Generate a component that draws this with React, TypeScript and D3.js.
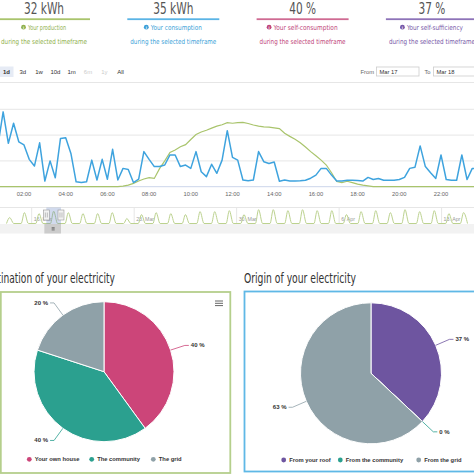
import React from "react";
import * as d3 from "d3";

// KPI cards
const kpiValues = ["32 kWh", "35 kWh", "40 %", "37 %"];
const kpiLabels = ["Your production", "Your consumption", "Your self-consumption", "Your self-sufficiency"];
const kpiColors = ["#a9c46c", "#5ab4e5", "#cf6a92", "#8d73b8"];
const kpiTextColors = ["#8fb04c", "#3b9fd8", "#c0457a", "#7658a8"];

const rangeButtons = ["1d", "3d", "1w", "10d", "1m", "6m", "1y", "All"];
const disabledButtons = ["6m", "1y"];
const fromDate = "Mar 17";
const toDate = "Mar 18";

// main chart, 15 min steps from 00:00 (kW)
const consumption = [
  1.9, 2.3, 1.7, 1.6, 2.9, 1.68, 2.46, 1.74, 1.62, 1.06, 0.8, 1.7, 0.22, 1.0, 0.35, 1.87,
  1.9, 1.29, 0.19, 0.16, 0.19, 1.03, 0.26, 1.06, 0.29, 1.45, 0.26, 0.71, 0.67, 0.16, 0.29, 1.36,
  1.06, 0.78, 0.78, 0.84, 1.23, 1.23, 0.78, 0.84, 0.71, 1.36, 0.58, 0.39, 0.87, 0.52, 1.03, 2.17,
  1.14, 1.03, 0.26, 0.23, 0.26, 1.36, 0.97, 0.9, 0.96, 0.21, 0.26, 0.22, 0.22, 0.23, 0.25, 0.33,
  0.45, 0.71, 0.71, 0.45, 0.22, 0.22, 0.25, 0.25, 0.24, 0.22, 0.36, 0.28, 0.32, 0.25, 0.25, 0.25,
  0.28, 0.36, 0.71, 0.75, 1.58, 0.78, 0.54, 0.32, 1.23, 0.28, 0.25, 0.25, 1.23, 0.28, 0.71, 0.71,
];
const production = [
  0, 0, 0, 0, 0, 0, 0, 0, 0, 0, 0, 0, 0, 0, 0, 0,
  0, 0, 0, 0, 0, 0, 0, 0, 0, 0, 0, 0.02, 0.06, 0.13, 0.22, 0.3,
  0.35, 0.32, 0.7, 1.0, 1.33, 1.42, 1.55, 1.63, 1.83, 2.02, 2.12, 2.19, 2.27, 2.35, 2.4, 2.48,
  2.46, 2.48, 2.49, 2.45, 2.39, 2.35, 2.32, 2.31, 2.28, 2.25, 2.07, 1.95, 1.84, 1.7, 1.54, 1.36,
  1.2, 1.03, 0.84, 0.54, 0.2, 0.16, 0.21, 0.16, 0.1, 0.06, 0.03, 0, 0, 0, 0, 0,
  0, 0, 0, 0, 0, 0, 0, 0, 0, 0, 0, 0, 0, 0, 0, 0,
];
const timeTicks = ["02:00", "04:00", "06:00", "08:00", "10:00", "12:00", "14:00", "16:00", "18:00", "20:00", "22:00"];

// navigator: daily production peak (kW)
const navDays = [
  "2019-03-14", "2019-03-15", "2019-03-16", "2019-03-17", "2019-03-18", "2019-03-19", "2019-03-20", "2019-03-21",
  "2019-03-22", "2019-03-23", "2019-03-24", "2019-03-25", "2019-03-26", "2019-03-27", "2019-03-28", "2019-03-29",
  "2019-03-30", "2019-03-31", "2019-04-01", "2019-04-02", "2019-04-03", "2019-04-04", "2019-04-05", "2019-04-06",
  "2019-04-07", "2019-04-08", "2019-04-09", "2019-04-10", "2019-04-11", "2019-04-12", "2019-04-13", "2019-04-14",
];
const navPeaks = [
  1.2, 2.2, 2.0, 2.49, 2.2, 2.0, 2.0, 2.2,
  1.0, 1.8, 2.2, 2.0, 1.8, 2.4, 2.4, 2.6,
  1.8, 2.8, 2.8, 2.6, 2.8, 2.6, 2.6, 1.8,
  2.4, 2.6, 2.2, 2.8, 2.4, 2.6, 2.0, 2.2,
];
const navTickLabels = ["16. Mar", "23. Mar", "30. Mar", "6. Apr", "13. Apr"];
const navTickDates = ["2019-03-16", "2019-03-23", "2019-03-30", "2019-04-06", "2019-04-13"];
const selectedRange = ["2019-03-17", "2019-03-18"];

// pies
const destLabels = ["Your own house", "The community", "The grid"];
const destValues = [40, 40, 20];
const originLabels = ["From your roof", "From the community", "From the grid"];
const originValues = [37, 0, 63];
const destColors = ["#cc4579", "#2ba08f", "#8fa1a8"];
const originColors = ["#6e55a0", "#2ba08f", "#8fa1a8"];

const chartFont = "'Liberation Sans', Arial, sans-serif";
const condFont = "'DejaVu Sans Condensed', 'Liberation Sans Narrow', sans-serif";
const parseDay = d3.utcParse("%Y-%m-%d");

function Pie({ values, labels, colors, cx, cy, r, legendX, legendY, legendGaps }) {
  const arcs = d3.pie<number>().sort(null).value((d) => d)(values);
  const arc = d3.arc<any>().innerRadius(0).outerRadius(r);
  let lx = legendX;
  return (
    <g>
      <g transform={`translate(${cx},${cy})`}>
        {arcs.map((a, i) => (
          <path key={i} d={arc(a) || ""} fill={colors[i]} stroke="#fff" strokeWidth={1} />
        ))}
        {arcs.map((a, i) => {
          const mid = (a.startAngle + a.endAngle) / 2;
          const s = Math.sin(mid), c = -Math.cos(mid);
          const x0 = s * r, y0 = c * r;
          const x1 = s * (r + 15), y1 = c * (r + 15);
          const right = s >= 0;
          const x2 = x1 + (right ? 4 : -4);
          return (
            <g key={"l" + i}>
              <path d={`M${x0},${y0}L${x1},${y1}L${x2},${y1}`} fill="none" stroke={colors[i]} strokeWidth={0.8} />
              <text x={x2 + (right ? 2 : -2)} y={y1 + 2} textAnchor={right ? "start" : "end"}
                fontSize={6} fontWeight="bold" fill="#333" fontFamily={chartFont}>
                {`${values[i]} %`}
              </text>
            </g>
          );
        })}
      </g>
      {labels.map((l, i) => {
        const x0 = lx;
        lx += legendGaps[i];
        return (
          <g key={"g" + i}>
            <circle cx={x0} cy={legendY - 2} r={2.4} fill={colors[i]} />
            <text x={x0 + 5.5} y={legendY} fontSize={5.8} fontWeight="bold" fill="#333" fontFamily={chartFont}>
              {l}
            </text>
          </g>
        );
      })}
    </g>
  );
}

export default function App() {
  const W = 474, H = 474;

  // main chart scales
  const x = d3.scaleLinear().domain([0, 24]).range([-17.7, 482.7]);
  const y = d3.scaleLinear().domain([0, 3]).range([186.7, 109.3]);
  const line = d3.line<number>().x((_, i) => x(i * 0.25)).y((d) => y(d));

  // navigator scales
  const navX = d3.scaleUtc().domain([parseDay("2019-03-16"), parseDay("2019-04-13")]).range([31.7, 441.6]);
  const navY = d3.scaleLinear().domain([0, 3.2]).range([223.5, 207.7]);
  const navPts: [number, number][] = [];
  navDays.forEach((d, i) => {
    const t = +parseDay(d);
    const day = 86400000;
    navPts.push([t + 0.28 * day, 0], [t + 0.5 * day, navPeaks[i]], [t + 0.77 * day, 0]);
  });
  const navLine = d3.line<[number, number]>().x((d) => navX(d[0])).y((d) => navY(d[1])).curve(d3.curveMonotoneX);
  const selX0 = navX(parseDay(selectedRange[0]));
  const selX1 = navX(parseDay(selectedRange[1]));

  const cardStep = 129.3;
  const subWidths = [38, 51, 64, 56];

  return (
    <div>
      <style>{`body{margin:0;background:#fff}`}</style>
      <svg width={W} height={H} style={{ display: "block" }}>
        <rect width={W} height={H} fill="#fff" />

        {/* KPI cards */}
        {kpiValues.map((v, i) => {
          const cx = 44 + i * cardStep;
          const tx = cx + 3;
          return (
            <g key={i}>
              <text x={cx} y={14} textAnchor="middle" fontSize={15} fill="#555" fontFamily={condFont}
                textLength={v.length * 6.7} lengthAdjust="spacingAndGlyphs">{v}</text>
              <rect x={cx - 46} y={18.3} width={92} height={1.8} fill={kpiColors[i]} />
              <circle cx={tx - subWidths[i] / 2 - 4.5} cy={27.2} r={2.4} fill={kpiTextColors[i]} />
              <text x={tx - subWidths[i] / 2 - 4.5} y={28.9} textAnchor="middle" fontSize={4} fontWeight="bold" fill="#fff" fontFamily={chartFont}>i</text>
              <text x={tx} y={29.5} textAnchor="middle" fontSize={7} fill={kpiTextColors[i]} fontFamily={condFont}
                textLength={subWidths[i]} lengthAdjust="spacingAndGlyphs">{kpiLabels[i]}</text>
              <text x={cx} y={44} textAnchor="middle" fontSize={7} fill={kpiTextColors[i]} fontFamily={condFont}
                textLength={86} lengthAdjust="spacingAndGlyphs">during the selected timeframe</text>
            </g>
          );
        })}

        {/* range selector */}
        <rect x={0} y={66.5} width={13.5} height={10.5} fill="#e6ebf5" />
        {rangeButtons.map((b, i) => (
          <text key={b} x={6.5 + i * 16.3} y={73.8} textAnchor="middle" fontSize={6}
            fontWeight={i === 0 ? "bold" : "normal"}
            fill={disabledButtons.includes(b) ? "#ccc" : "#333"} fontFamily={chartFont}>{b}</text>
        ))}
        <text x={374} y={73.5} textAnchor="end" fontSize={5.8} fill="#666" fontFamily={chartFont}>From</text>
        <rect x={376.5} y={67} width={42.5} height={9} fill="#fff" stroke="#ccc" strokeWidth={0.8} />
        <text x={379.5} y={73.5} fontSize={5.8} fill="#333" fontFamily={chartFont}>{fromDate}</text>
        <text x={430.5} y={73.5} textAnchor="end" fontSize={5.8} fill="#666" fontFamily={chartFont}>To</text>
        <rect x={433.5} y={67} width={42} height={9} fill="#fff" stroke="#ccc" strokeWidth={0.8} />
        <text x={436.5} y={73.5} fontSize={5.8} fill="#333" fontFamily={chartFont}>{toDate}</text>
        <line x1={0} x2={W} y1={82.5} y2={82.5} stroke="#e6e6e6" strokeWidth={1} />

        {/* main chart */}
        {y.ticks(3).map((t) => (
          <line key={t} x1={0} x2={W} y1={y(t)} y2={y(t)} stroke={t === 0 ? "#ccd6eb" : "#e6e6e6"} strokeWidth={1} />
        ))}
        {timeTicks.map((t) => {
          const h = +t.split(":")[0];
          return (
            <text key={t} x={x(h)} y={195.5} textAnchor="middle" fontSize={5.8} fill="#666" fontFamily={chartFont}>{t}</text>
          );
        })}
        <path d={line(production) || ""} fill="none" stroke="#a9c46c" strokeWidth={1.2} />
        <path d={line(consumption) || ""} fill="none" stroke="#3ea3de" strokeWidth={1.5} strokeLinejoin="round" />

        {/* navigator */}
        <line x1={0} x2={W} y1={207.5} y2={207.5} stroke="#e6e6e6" />
        {navTickDates.map((d, i) => {
          const nx = navX(parseDay(d));
          return (
            <g key={d}>
              <line x1={nx} x2={nx} y1={207.5} y2={224} stroke="#e6e6e6" />
              <text x={nx + 2} y={221} fontSize={5.3} fill="#999" fontFamily={chartFont}>{navTickLabels[i]}</text>
            </g>
          );
        })}
        <path d={navLine(navPts) || ""} fill="none" stroke="#bcd28f" strokeWidth={1} />
        <rect x={selX0} y={207.5} width={selX1 - selX0} height={16.5} fill="rgba(102,133,194,0.3)" />
        {[selX0, selX1].map((hx, i) => (
          <g key={i}>
            <rect x={hx - 3} y={210} width={6} height={10} fill="#f2f2f2" stroke="#999" strokeWidth={0.6} />
            <line x1={hx - 1} x2={hx - 1} y1={212.5} y2={217.5} stroke="#999" strokeWidth={0.6} />
            <line x1={hx + 1} x2={hx + 1} y1={212.5} y2={217.5} stroke="#999" strokeWidth={0.6} />
          </g>
        ))}
        <rect x={0} y={224} width={W} height={9.5} fill="#f2f2f2" />
        <rect x={selX0 - 2} y={224} width={selX1 - selX0 + 2} height={9.5} fill="#cccccc" />
        {[-1.2, 0, 1.2].map((o) => (
          <line key={o} x1={(selX0 + selX1) / 2 - 2} x2={(selX0 + selX1) / 2 + 1} y1={228.8 + o} y2={228.8 + o} stroke="#333" strokeWidth={0.5} />
        ))}

        {/* pie titles */}
        <text x={115} y={283.3} textAnchor="end" fontSize={14} fill="#333" fontFamily={condFont}
          textLength={135} lengthAdjust="spacingAndGlyphs">Destination of your electricity</text>
        <text x={244} y={283.3} fontSize={14} fill="#333" fontFamily={condFont}
          textLength={112} lengthAdjust="spacingAndGlyphs">Origin of your electricity</text>

        {/* boxes */}
        <rect x={0.8} y={292} width={229.5} height={181} fill="none" stroke="#b5cf8c" strokeWidth={1.8} />
        <rect x={244.5} y={291.5} width={240} height={180} fill="none" stroke="#5fb8e6" strokeWidth={1.8} />
        {[0, 2.3, 4.6].map((o) => (
          <line key={o} x1={215} x2={223} y1={301 + o} y2={301 + o} stroke="#666" strokeWidth={1} />
        ))}

        <Pie values={destValues} labels={destLabels} colors={destColors} cx={104} cy={371.7} r={70}
          legendX={29.3} legendY={461.3} legendGaps={[62.4, 61.6]} />
        <Pie values={originValues} labels={originLabels} colors={originColors} cx={371} cy={373.3} r={70.5}
          legendX={283.7} legendY={462} legendGaps={[56.6, 78.4]} />
      </svg>
    </div>
  );
}
